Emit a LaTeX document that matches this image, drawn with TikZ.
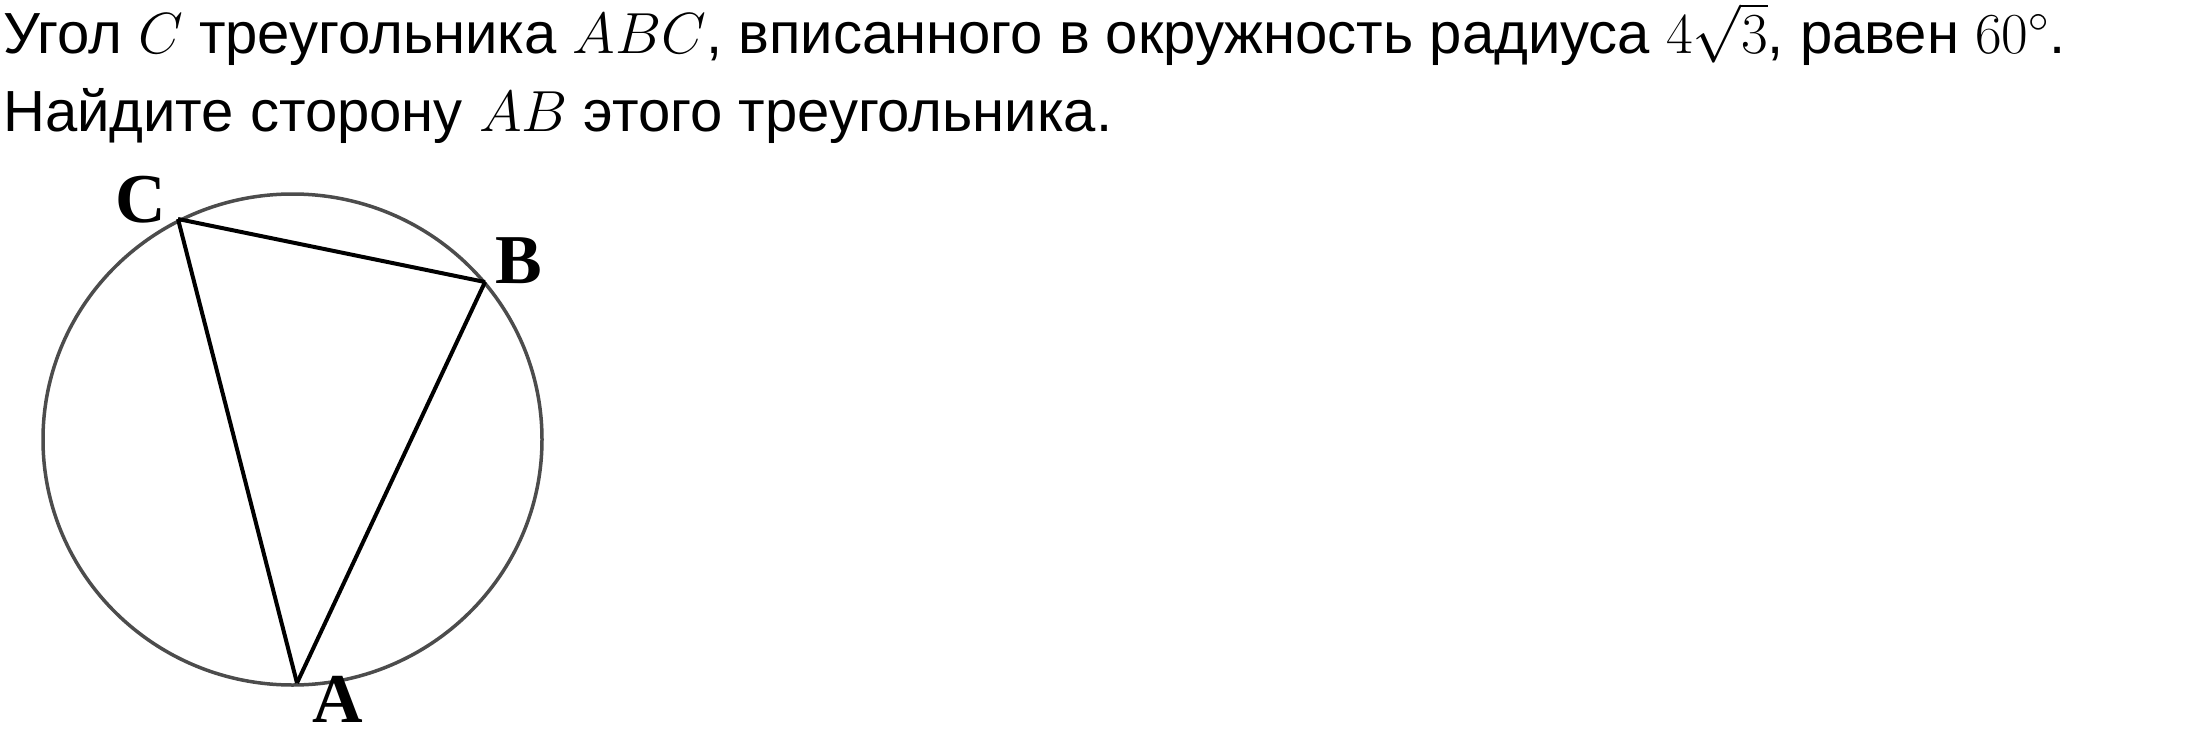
\RequirePackage{fix-cm}
\documentclass[tikz,border=0pt]{standalone}
\usepackage[no-math]{fontspec}
\setmainfont{Liberation Sans}
\newfontfamily\vertexfont{Liberation Serif}
\begin{document}
\begin{tikzpicture}[x=1pt,y=-1pt,
    task/.style={anchor=base west,inner sep=0pt,font=\fontsize{58}{70}\selectfont},
    vname/.style={anchor=base,inner sep=0pt,font=\fontsize{70}{80}\vertexfont\bfseries},
    side/.style={line width=4pt,line join=round},
    rim/.style={draw=black!70,line width=3.5pt}]
      \useasboundingbox (0,0) rectangle (2185,752);
      \node[task] (line1) at (3,54)
        {Угол $C$ треугольника $ABC$, вписанного в окружность радиуса $4\sqrt{3}$, равен $60^{\circ}$.};
      \node[task] (line2) at (3,131)
        {Найдите сторону $AB$ этого треугольника.};
      \draw[rim] (292.5,439.5) ellipse [x radius=249.5, y radius=245.5];
      \coordinate (A) at (297,683);
      \coordinate (B) at (485,282);
      \coordinate (C) at (178,219);
      \node[vname] (a) at (338,722) {A};
      \node[vname] (b) at (519,283) {B};
      \node[vname] (c) at (141,222) {C};
      \begin{scope}[side]
        \draw (C) to (B);
        \draw (B) to (A);
        \draw (A) to (C);
      \end{scope}
    \end{tikzpicture}
\end{document}
